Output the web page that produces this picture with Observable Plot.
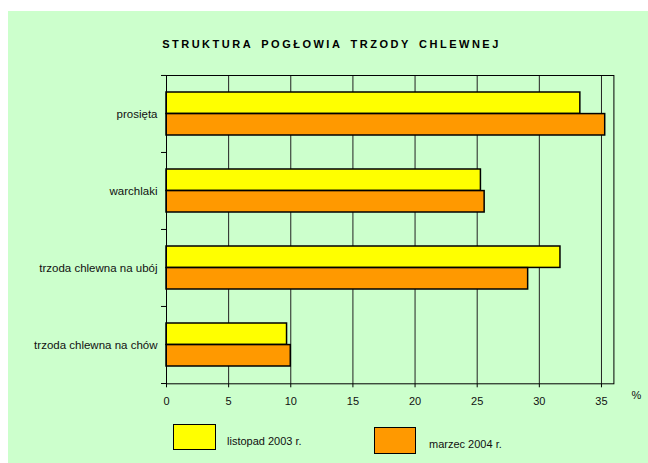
<!DOCTYPE html>
<html>
<head>
<meta charset="utf-8">
<script src="https://cdn.jsdelivr.net/npm/d3@7"></script>
<script src="https://cdn.jsdelivr.net/npm/@observablehq/plot@0.6"></script>
<style>
  html, body { margin: 0; padding: 0; background: #fff; }
  #wrap { position: absolute; left: 8px; top: 11px; width: 640px; height: 452px; background: #CCFFCC; font-family: "Liberation Sans", Arial, sans-serif; }
  #title { position: absolute; left: 0; width: 647px; top: 27px; text-align: center; font-weight: bold; font-size: 11px; letter-spacing: 2.5px; word-spacing: 3px; color: #000; }
  .sw { position: absolute; border: 1.5px solid #000; box-sizing: border-box; }
  .lt { position: absolute; font-size: 11px; color: #111; }
  #chart { position: absolute; left: 0; top: 0; }
</style>
</head>
<body>
<div id="wrap">
  <div id="chart"></div>
  <div id="title">STRUKTURA POGŁOWIA TRZODY CHLEWNEJ</div>
  <div class="sw" style="left:165px;top:413px;width:43px;height:26px;background:#FFFF00"></div>
  <div class="lt" style="left:219px;top:424px">listopad 2003 r.</div>
  <div class="sw" style="left:366px;top:416px;width:42px;height:27px;background:#FF9900"></div>
  <div class="lt" style="left:421px;top:427px">marzec 2004 r.</div>
</div>
<script>
const categories = ["prosięta", "warchlaki", "trzoda chlewna na ubój", "trzoda chlewna na chów"];
const listopad2003 = [33.3, 25.3, 31.7, 9.7];
const marzec2004 = [35.3, 25.6, 29.1, 10.0];
const xTicks = [0, 5, 10, 15, 20, 25, 30, 35];
const gridTicks = [5, 10, 15, 20, 25, 30, 35];

const dataA = categories.map((c, i) => ({cat: c, v: listopad2003[i]}));
const dataB = categories.map((c, i) => ({cat: c, v: marzec2004[i]}));

const W = 640, H = 452;
const mL = 158, mR = 34.6, mT = 64, mB = 79.7;
const pInner = 0.44, pOuter = 0.22;
const step = (H - mT - mB) / (categories.length - pInner + 2 * pOuter);
const half = step * (1 - pInner) / 2;

const chart = Plot.plot({
  width: W, height: H,
  marginLeft: mL, marginRight: mR, marginTop: mT, marginBottom: mB,
  style: {background: "transparent", fontFamily: "Liberation Sans, Arial, sans-serif", fontSize: "11px", color: "#111"},
  x: {domain: [0, 36], ticks: xTicks},
  y: {domain: categories, paddingInner: pInner, paddingOuter: pOuter, align: 0.5},
  marks: [
    Plot.ruleX(gridTicks, {x: d => d, stroke: "#222", strokeWidth: 1}),
    Plot.barX(dataA, {x: "v", y: "cat", fill: "#FFFF00", stroke: "#000", strokeWidth: 1.5, insetBottom: half}),
    Plot.barX(dataB, {x: "v", y: "cat", fill: "#FF9900", stroke: "#000", strokeWidth: 1.5, insetTop: half}),
    Plot.frame({stroke: "#000", strokeWidth: 1}),
    Plot.axisX({ticks: xTicks, tickSize: 4, tickPadding: 9, label: null, stroke: "#000"}),
    Plot.axisY({tickSize: 0, tickPadding: 9, label: null, fontSize: 11.5}),
    Plot.ruleY(categories, {y: d => d, x1: -0.4, x2: 0, dy: -step / 2, stroke: "#000"}),
    Plot.ruleY(categories.slice(-1), {y: d => d, x1: -0.4, x2: 0, dy: step / 2, stroke: "#000"}),
    Plot.text(["%"], {x: 37.8, frameAnchor: "bottom", dy: 15, text: d => d, fontSize: 11})
  ]
});
document.getElementById("chart").appendChild(chart);
</script>
</body>
</html>
